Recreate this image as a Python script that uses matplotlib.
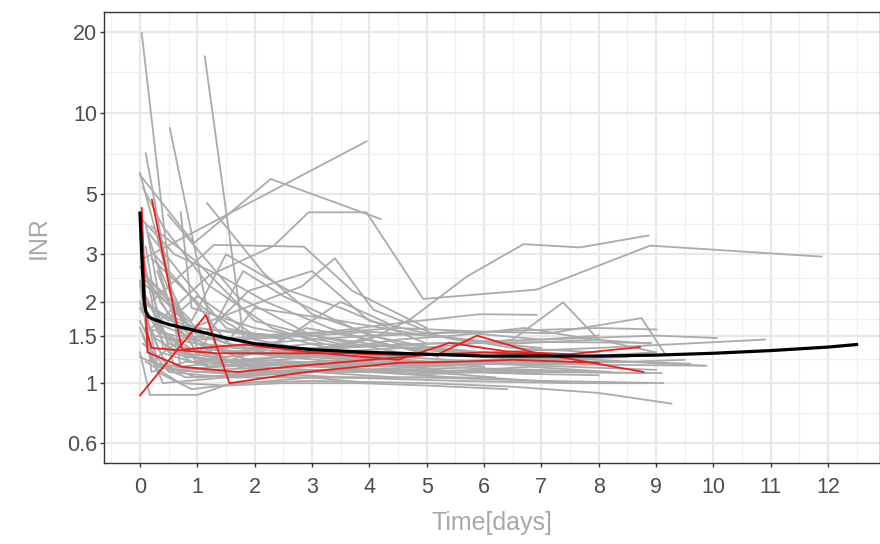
import matplotlib
matplotlib.use("Agg")
import matplotlib.pyplot as plt
import numpy as np
from matplotlib.ticker import FixedLocator, NullFormatter

plt.rcParams['font.family'] = ['Liberation Sans', 'DejaVu Sans']

# ---------------- data ----------------
grey_t = [
    [0.03, 0.70, 1.5, 3.0, 5.0, 6.2],
    [1.13, 1.84, 3.0, 4.5, 6.0],
    [0.52, 1.32, 2.5, 3.5, 5.0],
    [0.10, 0.56, 1.0, 2.0, 3.0, 4.0, 5.5, 7.0],
    [0.0, 0.53, 1.0, 2.0, 3.5, 5.0, 6.0, 7.5, 9.0],
    [0.0, 0.94, 2.28, 4.2],
    [0.07, 3.95],
    [0.2, 1.2, 2.33, 2.94, 3.95, 4.94, 6.92, 8.9, 11.89],
    [0.1, 1.0, 2.5, 4.0, 4.71, 5.7, 6.69, 7.67, 8.87],
    [0.49, 1.7, 3.0, 4.5, 6.0, 7.5],
    [1.17, 2.16, 3.0, 4.5, 6.0],
    [0.1, 0.9, 2.82, 3.4, 4.07, 5.2, 6.5, 8.0],
    [0.2, 1.5, 3.0, 5.0, 6.5, 7.38, 8.0, 9.0],
    [0.1, 1.0, 2.5, 4.5, 6.0, 7.15, 8.75, 9.15],
    [0.05, 0.3, 1.0, 2.0, 4.0, 6.0, 8.0, 9.01],
    [0.0, 0.5, 1.5, 3.0, 5.0, 7.0, 9.0, 10.06],
    [0.1, 1.0, 2.0, 4.0, 6.0, 8.0, 9.5, 10.9],
    [0.0, 0.3, 1.0, 3.0, 5.0, 7.0, 8.5, 9.85],
    [0.05, 0.2, 1.0, 2.5, 4.0, 6.0, 7.5, 9.1],
    [0.1, 0.5, 1.5, 3.0, 5.0, 7.0, 9.13],
    [0.0, 0.17, 1.0, 1.6, 3.0, 5.0, 6.5, 8.0, 9.27],
    [0.05, 0.4, 1.5, 3.0, 4.5, 6.0, 7.5, 8.84],
    [0.1, 0.6, 1.5, 3.0, 5.0, 7.0, 8.84],
    [0.0, 0.25, 1.0, 2.0, 3.5, 5.0, 7.0, 8.92],
    [0.15, 0.8, 2.0, 3.5, 5.0, 6.5, 8.0, 9.88],
    [0.0, 0.35, 1.2, 2.5, 4.0, 5.5],
    [0.1, 0.4, 1.3, 2.6, 4.0],
    [0.2, 1.0, 2.0, 3.0, 4.5, 6.0, 7.0],
    [0.3, 1.0, 1.8, 2.5, 4.0, 5.5],
    [0.05, 0.6, 1.4, 2.2, 3.3, 4.2, 5.0],
    [0.1, 0.9, 1.5, 2.6, 3.5, 5.0],
    [0.2, 1.1, 1.9, 3.0, 4.0, 5.5, 7.0],
    [0.0, 0.5, 1.5, 2.0, 3.5, 5.0, 6.5, 8.0],
    [0.15, 0.8, 1.5, 2.5, 3.5, 4.5],
    [0.05, 0.4, 1.2, 2.3, 3.2],
    [0.25, 0.8, 1.6, 2.8, 4.2, 5.5, 7.0, 8.0],
    [0.1, 0.45, 1.2, 2.0, 2.9, 4.0, 5.2],
    [0.0, 0.3, 1.0, 2.4, 3.6, 5.0, 6.0],
    [0.2, 1.29, 2.86, 3.7, 5.0],
    [0.05, 0.3, 0.9, 1.8, 3.0, 4.0],
    [0.1, 0.7, 1.5, 2.5, 3.8, 5.0, 6.4],
    [0.0, 0.2, 0.8, 2.0, 3.0, 4.5, 6.0, 7.0, 8.5],
    [0.15, 0.5, 1.3, 2.4, 3.5, 4.8, 6.0, 7.5, 9.0],
    [0.05, 0.6, 1.4, 2.8, 4.3, 5.8, 7.2, 8.5, 9.5],
    [0.1, 0.35, 1.0, 2.0, 3.0, 4.0, 5.0, 6.0, 7.0, 8.0],
    [0.0, 0.8, 2.2, 3.8, 5.3, 6.8, 8.2],
    [0.2, 1.1, 2.0, 3.2, 4.6, 6.2, 7.8],
    [0.1, 0.6, 1.7, 3.0, 4.0, 5.0],
    [0.05, 0.5, 1.0, 2.0],
    [0.3, 0.7, 1.5, 2.5, 3.5, 5.5, 7.5],
    [0.1, 1.0, 2.0, 3.3, 4.53, 5.93, 6.92],
    [0.0, 0.7, 1.8, 3.0, 4.5, 5.5, 6.7, 7.9, 8.9],
    [0.71, 0.9, 2.0, 3.5],
    [0.1, 0.5, 1.6, 3.1, 4.4, 5.6, 6.9, 8.1],
    [0.05, 0.3, 1.2, 2.7, 4.1, 5.4, 6.6, 7.7],
    [0.2, 0.9, 2.1, 3.4, 4.9, 6.1, 7.3, 8.6, 9.6],
]
grey_inr = [
    [19.8, 1.15, 1.2, 1.15, 1.1, 1.05],
    [16.2, 1.30, 1.25, 1.2, 1.15],
    [8.8, 1.33, 1.25, 1.2, 1.15],
    [7.1, 2.09, 1.4, 1.2, 1.25, 1.2, 1.1, 1.08],
    [6.0, 2.28, 1.35, 1.3, 1.25, 1.2, 1.18, 1.15, 1.12],
    [5.9, 3.3, 5.7, 4.05],
    [2.9, 7.85],
    [1.6, 2.5, 3.22, 4.29, 4.29, 2.05, 2.22, 3.23, 2.94],
    [2.4, 1.5, 1.25, 1.45, 1.72, 2.48, 3.27, 3.18, 3.52],
    [4.2, 2.09, 1.5, 1.3, 1.25, 1.2],
    [4.64, 2.55, 1.8, 1.4, 1.3],
    [2.5, 1.6, 2.28, 2.9, 1.87, 1.5, 1.35, 1.3],
    [1.7, 1.3, 1.4, 1.35, 1.45, 1.99, 1.45, 1.3],
    [2.0, 1.45, 1.5, 1.6, 1.55, 1.53, 1.74, 1.29],
    [3.0, 1.6, 1.3, 1.4, 1.5, 1.55, 1.6, 1.58],
    [2.3, 1.4, 1.25, 1.35, 1.4, 1.45, 1.5, 1.47],
    [1.8, 1.2, 1.3, 1.25, 1.3, 1.35, 1.4, 1.45],
    [1.6, 1.15, 1.1, 1.1, 1.15, 1.2, 1.2, 1.16],
    [2.2, 1.2, 1.05, 1.1, 1.1, 1.12, 1.1, 1.09],
    [1.4, 1.1, 1.05, 1.05, 1.05, 1.02, 1.0],
    [1.3, 0.905, 0.905, 1.0, 1.02, 1.0, 0.97, 0.92, 0.84],
    [1.5, 1.0, 1.05, 1.1, 1.05, 1.05, 1.0, 1.0],
    [2.6, 1.15, 1.1, 1.12, 1.1, 1.1, 1.09],
    [1.9, 1.5, 1.4, 1.35, 1.35, 1.4, 1.42, 1.41],
    [3.5, 1.25, 1.2, 1.15, 1.2, 1.18, 1.17, 1.16],
    [2.0, 1.3, 1.15, 1.2, 1.1, 1.05],
    [3.2, 1.35, 1.2, 1.05, 1.05],
    [3.8, 2.8, 1.7, 1.5, 1.35, 1.3, 1.25],
    [2.8, 1.25, 2.6, 2.1, 1.5, 1.3],
    [4.0, 3.0, 2.5, 2.0, 1.6, 1.4, 1.3],
    [2.5, 1.7, 3.0, 2.2, 1.9, 1.4],
    [1.9, 1.5, 2.2, 2.6, 1.7, 1.45, 1.35],
    [2.7, 1.8, 1.4, 1.9, 1.7, 1.5, 1.4, 1.45],
    [3.6, 2.4, 1.6, 1.45, 2.0, 1.6],
    [5.3, 3.8, 2.3, 1.6, 1.4],
    [3.0, 2.2, 1.35, 1.3, 1.5, 1.55, 1.45, 1.5],
    [2.1, 1.5, 1.15, 1.3, 1.6, 1.45, 1.25],
    [1.7, 1.25, 1.6, 1.5, 1.3, 1.2, 1.15],
    [2.0, 3.25, 3.2, 2.2, 1.6],
    [1.5, 1.1, 0.95, 1.0, 1.05, 1.0],
    [1.2, 1.0, 0.98, 1.0, 1.0, 0.98, 0.95],
    [2.4, 1.1, 1.2, 1.15, 1.2, 1.25, 1.2, 1.22, 1.25],
    [1.8, 1.3, 1.2, 1.25, 1.3, 1.28, 1.3, 1.25, 1.3],
    [1.4, 1.12, 1.15, 1.18, 1.15, 1.2, 1.18, 1.2, 1.22],
    [3.9, 2.0, 1.3, 1.15, 1.12, 1.1, 1.08, 1.1, 1.08, 1.07],
    [1.25, 1.05, 1.08, 1.12, 1.1, 1.15, 1.1],
    [2.9, 1.9, 1.45, 1.3, 1.35, 1.25, 1.22],
    [1.6, 1.5, 1.45, 1.5, 1.55, 1.5],
    [2.0, 1.7, 2.1, 1.5],
    [2.6, 1.55, 1.2, 1.08, 1.05, 1.02, 1.0],
    [2.3, 1.6, 1.5, 1.55, 1.67, 1.8, 1.79],
    [1.9, 1.3, 1.2, 1.3, 1.45, 1.5, 1.6, 1.45, 1.4],
    [4.3, 1.9, 1.6, 1.4],
    [1.7, 1.12, 1.08, 1.1, 1.12, 1.14, 1.12, 1.1],
    [2.1, 1.18, 1.12, 1.15, 1.18, 1.16, 1.2, 1.18],
    [1.5, 1.2, 1.22, 1.18, 1.2, 1.22, 1.24, 1.2, 1.18],
]

red_t = [
    [0.03, 0.13, 0.73, 1.7, 2.6, 4.0, 5.2, 5.88, 6.86, 8.78],
    [0.21, 0.73, 1.8, 3.0, 4.5, 5.4, 6.4, 7.5, 8.72],
    [0.0, 1.15, 1.56, 2.9, 4.53, 5.5, 6.5, 8.0],
    [0.1, 0.2, 1.34, 3.5, 4.5, 5.3, 6.0, 7.0],
]
red_inr = [
    [4.45, 1.30, 1.15, 1.10, 1.15, 1.22, 1.28, 1.50, 1.30, 1.10],
    [4.77, 1.33, 1.39, 1.30, 1.22, 1.41, 1.31, 1.28, 1.36],
    [0.90, 1.79, 1.0, 1.10, 1.19, 1.20, 1.22, 1.19],
    [1.6, 1.35, 1.29, 1.29, 1.27, 1.28, 1.30, 1.28],
]

fit_t = [0, 0.03, 0.07, 0.1, 0.15, 0.25, 0.5, 1, 1.5, 2, 3, 4, 5, 6, 7, 8, 9, 10, 11, 12, 12.5]
fit_inr = [4.26, 3.0, 2.03, 1.85, 1.76, 1.72, 1.65, 1.56, 1.47, 1.40, 1.33, 1.30, 1.28,
           1.26, 1.26, 1.26, 1.27, 1.29, 1.32, 1.36, 1.39]

x_ticks = list(range(0, 13))
y_ticks = [0.6, 1, 1.5, 2, 3, 5, 10, 20]
y_labels = ["0.6", "1", "1.5", "2", "3", "5", "10", "20"]

# ---------------- figure ----------------
fig = plt.figure(figsize=(8.8, 5.44), dpi=100)
ax = fig.add_axes([104 / 880, 1 - 463.3 / 544, 775.5 / 880, (463.3 - 12.3) / 544])

for t, v in zip(grey_t, grey_inr):
    ax.plot(t, v, color="#ABABAB", lw=1.3, solid_joinstyle="round", zorder=2)
for t, v in zip(red_t, red_inr):
    ax.plot(t, v, color="#F21B1B", lw=1.3, solid_joinstyle="round", zorder=3)
ax.plot(fit_t, fit_inr, color="black", lw=2.3, zorder=4)

ax.set_yscale("log")
ax.set_xlim(-0.628, 12.9)
ax.set_ylim(0.505, 23.6)

ax.xaxis.set_major_locator(FixedLocator(x_ticks))
ax.xaxis.set_minor_locator(FixedLocator([i + 0.5 for i in range(-1, 13)]))
ax.yaxis.set_major_locator(FixedLocator(y_ticks))
ax.set_yticklabels(y_labels)
minor_y = [np.sqrt(a * b) for a, b in zip(y_ticks[:-1], y_ticks[1:])]
ax.yaxis.set_minor_locator(FixedLocator(minor_y))
ax.yaxis.set_minor_formatter(NullFormatter())

ax.grid(which="major", color="#E8E8E8", lw=1.6, zorder=0)
ax.grid(which="minor", color="#F0F0F0", lw=0.9, zorder=0)
ax.set_axisbelow(True)

for s in ax.spines.values():
    s.set_color("#333333")
    s.set_linewidth(1.0)

ax.tick_params(which="major", length=3, width=1.0, color="#333333",
               labelcolor="#4D4D4D", labelsize=15.5)
ax.tick_params(axis="x", which="major", pad=7)
ax.tick_params(axis="y", which="major", pad=2)
ax.tick_params(which="minor", length=0)

ax.set_xlabel("Time[days]", color="#A8A8A8", fontsize=18, labelpad=9)
ax.set_ylabel("INR", color="#A8A8A8", fontsize=18, labelpad=12)

fig.savefig("out.png", dpi=100)
